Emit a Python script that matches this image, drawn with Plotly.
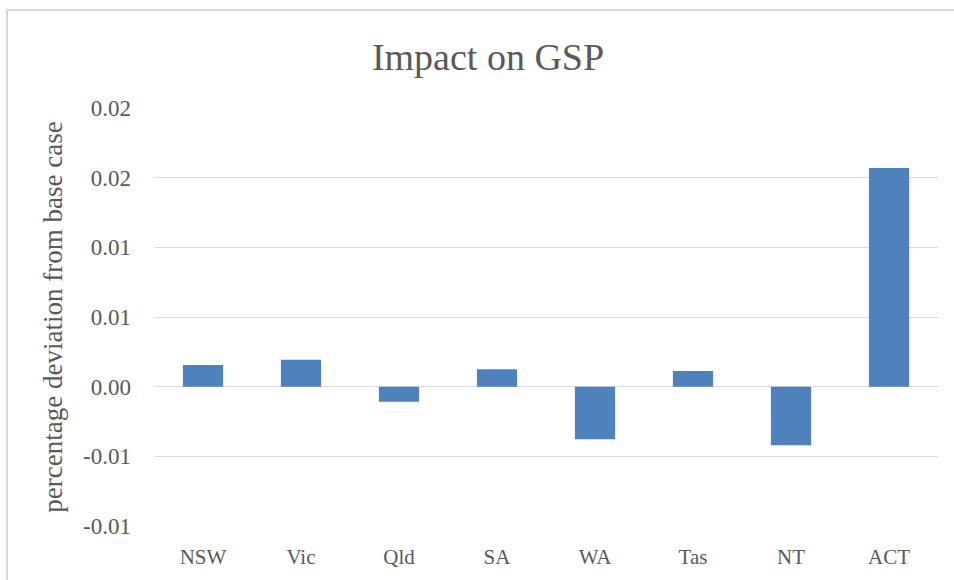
import plotly.graph_objects as go

categories = ["NSW", "Vic", "Qld", "SA", "WA", "Tas", "NT", "ACT"]
values = [0.00156, 0.00194, -0.00108, 0.00125, -0.00377, 0.00113, -0.0042, 0.01569]
tick_vals = [-0.01, -0.005, 0.0, 0.005, 0.01, 0.015, 0.02]
tick_text = ["-0.01", "-0.01", "0.00", "0.01", "0.01", "0.02", "0.02"]

font_family = "Liberation Serif"
text_color = "#595959"

fig = go.Figure(go.Bar(
    x=categories, y=values,
    marker=dict(color="#4F81BD", line=dict(width=0)),
    width=0.41,
))

fig.update_layout(
    width=954, height=580,
    margin=dict(l=154, r=16, t=108, b=54),
    paper_bgcolor="white", plot_bgcolor="white",
    font=dict(family=font_family, color=text_color, size=21),
    title=dict(text="Impact on GSP", x=488/954, xanchor="center",
               y=1 - 57/580, yanchor="middle",
               font=dict(size=38, family=font_family, color=text_color)),
    showlegend=False,
)
fig.update_xaxes(showgrid=False, showline=False, ticks="",
                 ticklabelstandoff=16, tickfont=dict(size=21))
fig.update_yaxes(range=[-0.01, 0.02], tickvals=tick_vals, ticktext=tick_text,
                 showgrid=True, gridcolor="#D9D9D9", gridwidth=1.3,
                 zeroline=True, zerolinecolor="#D9D9D9", zerolinewidth=1.3,
                 showline=False, ticks="", ticklabelstandoff=22,
                 tickfont=dict(size=23),
                 title=dict(text="percentage deviation from base case",
                            font=dict(size=27), standoff=12))

fig.add_shape(type="rect", xref="paper", yref="paper",
              x0=(7-154)/784, x1=(1000-154)/784,
              y0=-1, y1=(526-10)/418,
              line=dict(color="#D9D9D9", width=2), fillcolor="rgba(0,0,0,0)",
              layer="below")

fig.write_html("out.html", config={"displayModeBar": False},
               post_script="document.body.style.margin='0';document.body.style.padding='0';")
